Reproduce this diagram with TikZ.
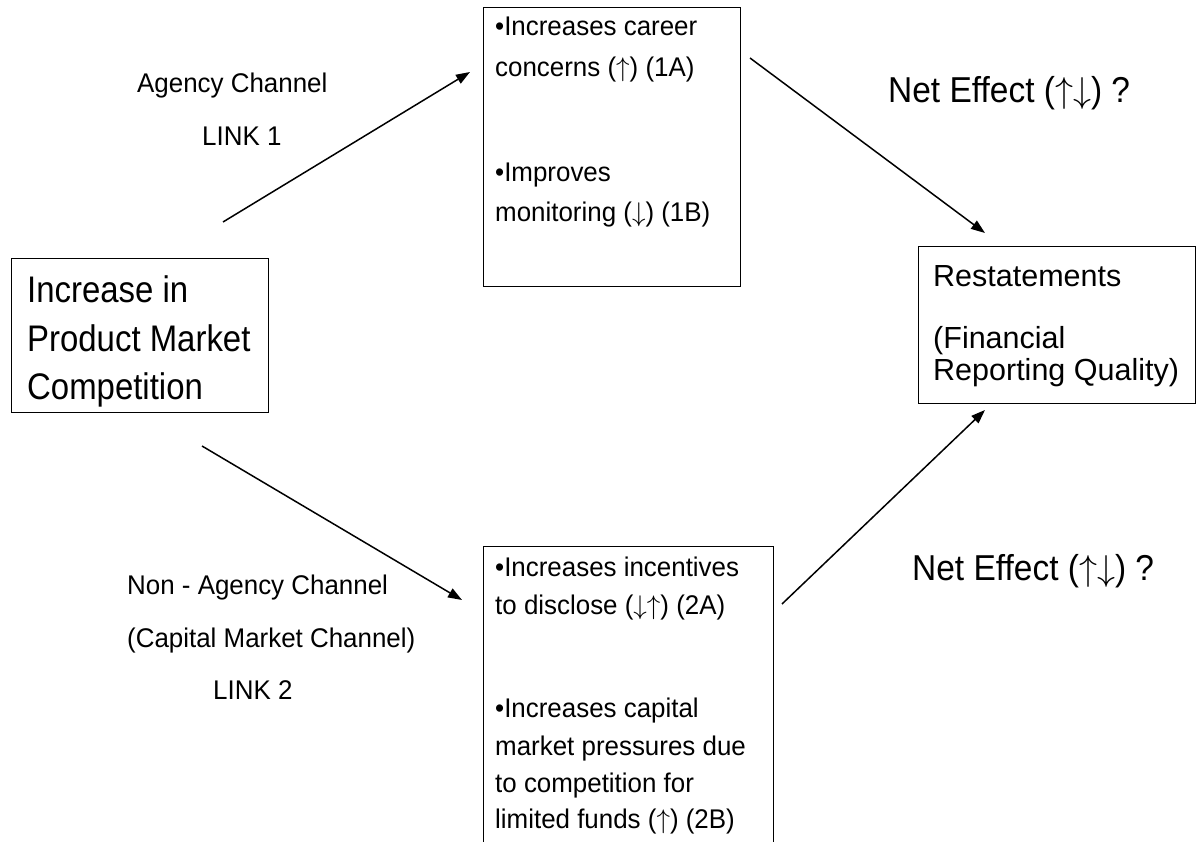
\documentclass[tikz,border=0pt]{standalone}
\usepackage{fix-cm}
\usepackage{fontspec}
\setmainfont{Liberation Sans}
\newfontfamily\smallf[FakeStretch=0.96]{Liberation Sans}
\newfontfamily\bigf[FakeStretch=0.89]{Liberation Sans}
\newfontfamily\netf[FakeStretch=0.93]{Liberation Sans}
\newfontfamily\resf{Liberation Sans}
\newcommand\upa{\ensuremath{\uparrow}}
\newcommand\dna{\ensuremath{\downarrow}}
\usetikzlibrary{arrows.meta}
\tikzset{
  box/.style={draw, line width=1.2pt, inner sep=0pt, anchor=north west},
  txt/.style={inner sep=0pt, anchor=base west, font=\smallf\fontsize{27}{32}\selectfont},
  bigtxt/.style={inner sep=0pt, anchor=base west, font=\bigf\fontsize{37}{44}\selectfont},
  restxt/.style={inner sep=0pt, anchor=base west, font=\resf\fontsize{30.5}{36}\selectfont},
  nettxt/.style={inner sep=0pt, anchor=base west, font=\netf\fontsize{36}{42}\selectfont},
  link/.style={line width=1.5pt, -{Triangle[length=14pt,width=10pt]}}
}
\begin{document}
\begin{tikzpicture}[x=1pt,y=-1pt]
\useasboundingbox[fill=white] (0,0) rectangle (1203,842);
% boxes
\node[box, minimum width=257pt, minimum height=154pt] (comp) at (11,258) {};
\node[box, minimum width=257pt, minimum height=279pt] (agency) at (483,7) {};
\node[box, minimum width=290pt, minimum height=320pt] (nonagency) at (483,546) {};
\node[box, minimum width=277pt, minimum height=157pt] (restate) at (918,246) {};
% left box text
\node[bigtxt] (c1) at (27,303) {Increase in};
\node[bigtxt] (c2) at (27,352) {Product Market};
\node[bigtxt] (c3) at (27,400) {Competition};
% top box text
\node[txt] (a1) at (495,36) {•Increases career};
\node[txt] (a2) at (495,77) {concerns (\upa) (1A)};
\node[txt] (a3) at (495,182) {•Improves};
\node[txt] (a4) at (495,222) {monitoring (\dna) (1B)};
% bottom box text
\node[txt] (b1) at (495,576) {•Increases incentives};
\node[txt] (b2) at (495,614) {to disclose (\dna\upa) (2A)};
\node[txt] (b3) at (495,717) {•Increases capital};
\node[txt] (b4) at (495,755) {market pressures due};
\node[txt] (b5) at (495,792) {to competition for};
\node[txt] (b6) at (495,828) {limited funds (\upa) (2B)};
% right box text
\node[restxt] (r1) at (933,287) {Restatements};
\node[restxt] (r2) at (933,349) {(Financial};
\node[restxt] (r3) at (933,381) {Reporting Quality)};
% channel labels
\node[txt] (l1) at (137,93) {Agency Channel};
\node[txt] (l2) at (202,146) {LINK 1};
\node[txt] (l3) at (127,594) {Non - Agency Channel};
\node[txt] (l4) at (127,647) {(Capital Market Channel)};
\node[txt] (l5) at (213,699) {LINK 2};
% net effect labels
\node[nettxt] (n1) at (888,103) {Net Effect (\upa\dna) ?};
\node[nettxt] (n2) at (912,580) {Net Effect (\upa\dna) ?};
% connector end points
\coordinate (s1) at (223,222);
\coordinate (e1) at (470,72);
\coordinate (s2) at (202,446);
\coordinate (e2) at (462,600);
\coordinate (s3) at (750,58);
\coordinate (e3) at (985,233);
\coordinate (s4) at (782,604);
\coordinate (e4) at (985,410);
\draw[link] (s1) -- (e1);
\draw[link] (s2) -- (e2);
\draw[link] (s3) -- (e3);
\draw[link] (s4) -- (e4);
\end{tikzpicture}
\end{document}
